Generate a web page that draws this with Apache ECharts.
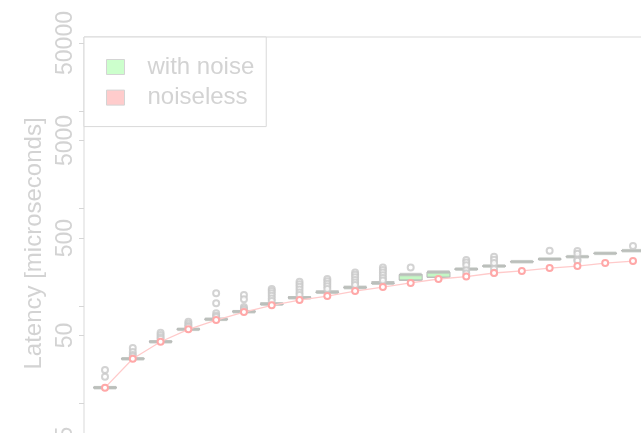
<!DOCTYPE html>
<html>
<head>
<meta charset="utf-8">
<script src="https://cdn.jsdelivr.net/npm/echarts@6/dist/echarts.min.js"></script>
<style>html,body{margin:0;padding:0;background:#fff;}#c{width:641px;height:433px;}</style>
</head>
<body>
<div id="c"></div>
<script>
// ---- data ----
const groups = [1,2,3,4,5,6,7,8,9,10,11,12,13,14,15,16,17,18,19,20];
// with noise: [min, Q1, median, Q3, max]
const withNoiseStats = [
  [14.4,14.5,14.6,14.7,14.9],
  [28.6,28.8,28.9,29.0,29.3],
  [42.8,43.0,43.2,43.4,44.0],
  [57.4,57.7,57.9,58.1,59.0],
  [72.5,73.0,73.3,73.6,75.0],
  [87.0,87.5,87.8,88.2,90.0],
  [104,104.6,105,105.5,108],
  [121,121.5,122,122.7,125],
  [138,138.5,139,139.8,143],
  [154,154.5,155,156,160],
  [171,171.5,172,173,178],
  [185,185,211,211,211],
  [198,198,224,224,224],
  [238,239,240,241,242],
  [256,257,258,259,260],
  [284,285,286,287,288],
  [302,303,304,305,306],
  [320,321,322,323,324],
  [346,347,348,349,350],
  [369,370,371,372,373]
];
const withNoiseMedians = withNoiseStats.map(s => s[2]);
// outliers: [group, value]
const withNoiseOutliers = [
  [1,22.1],[1,18.9],
  [2,37.2],[2,33.9],[2,31.6],[2,30.4],
  [3,53.4],[3,50.5],[3,48],[3,46],
  [4,69.3],[4,66],[4,63],[4,61],
  [5,135.5],[5,107],[5,84.5],[5,80],[5,77],
  [6,130],[6,118],[6,98],[6,94],[6,91],
  [7,150],[7,143],[7,136],[7,128],[7,120],[7,113],
  [8,178],[8,168],[8,158],[8,148],[8,138],[8,130],
  [9,190],[9,180],[9,170],[9,160],[9,150],
  [10,222],[10,210],[10,198],[10,186],[10,175],[10,165],
  [11,249],[11,235],[11,222],[11,208],[11,195],[11,183],
  [12,249],
  [14,297],[14,280],[14,263],[14,233],[14,216],
  [15,322],[15,300],[15,278],[15,240],[15,220],
  [17,371],
  [18,368],[18,345],[18,300],[18,292],
  [20,414]
];
const noiseless = [14.6,28.9,43.2,57.9,72.1,87.1,102,115.6,127,143,157,173,190,201,219,230,246,258,277,290];
const yTickValues = [5,10,50,100,500,1000,5000,10000,50000];
const yLabelValues = [5,50,500,5000,50000];
const yAxisTitle = 'Latency [microseconds]';
const legendNames = ['with noise','noiseless'];

// ---- chart ----
const chart = echarts.init(document.getElementById('c'), null, {renderer:'canvas'});
const txt = '#d3d3d3';
const font = 'Liberation Sans, Arial, sans-serif';
chart.setOption({
  animation: false,
  backgroundColor: '#fff',
  grid: {left: 84, top: 37, width: 617, height: 413, outerBoundsMode: 'none', containLabel: false,
    show: true, borderColor: '#d9d9d9', borderWidth: 1, backgroundColor: 'transparent'},
  xAxis: {
    type: 'value', min: 0.2443, max: 22.447,
    axisLine: {show:false}, axisTick: {show:false}, axisLabel: {show:false}, splitLine: {show:false}
  },
  yAxis: {
    type: 'log', logBase: 10, min: 3.35, max: 57620,
    name: yAxisTitle, nameLocation: 'middle', nameRotate: 90, nameGap: 30,
    nameTextStyle: {color: txt, fontSize: 24, fontFamily: font},
    axisLine: {show:false},
    axisTick: {show:true, length: 5, lineStyle:{color:'#d6d6d6'}, customValues: yTickValues},
    axisLabel: {show:true, rotate: 90, margin: 7, color: txt, fontSize: 23, fontFamily: font,
      customValues: yLabelValues, formatter: v => String(Math.round(v))},
    splitLine: {show:false}
  },
  legend: {
    orient: 'vertical', left: 84, top: 37,
    padding: [18, 12, 17, 22], itemGap: 6.6, itemWidth: 18, itemHeight: 15,
    borderColor: '#d9d9d9', borderWidth: 1, backgroundColor: '#fff', borderRadius: 0,
    textStyle: {color: txt, fontSize: 24, fontFamily: font, lineHeight: 23, padding: [0,0,0,18]},
    data: [
      {name: legendNames[0], icon: 'rect', itemStyle: {color:'#ccffcc', borderColor:'#d4d4d4', borderWidth:1}},
      {name: legendNames[1], icon: 'rect', itemStyle: {color:'#ffcccc', borderColor:'#d4d4d4', borderWidth:1}}
    ]
  },
  series: [
    {
      name: legendNames[0], type: 'boxplot',
      boxWidth: [23, 23],
      itemStyle: {color: '#c4f7c4', borderColor: '#b8b8b8', borderWidth: 1},
      data: withNoiseStats.map((s, i) => [groups[i]].concat(s)),
      z: 2
    },
    {
      name: legendNames[0], type: 'scatter', symbol: 'rect', symbolSize: [22, 3.5],
      itemStyle: {color: '#bcc1bc'},
      data: withNoiseMedians.map((m, i) => [groups[i], m]),
      z: 3
    },
    {
      name: legendNames[0], type: 'scatter', symbol: 'emptyCircle', symbolSize: 6,
      itemStyle: {color: '#c8c8c8', borderWidth: 1},
      data: withNoiseOutliers,
      z: 3
    },
    {
      name: legendNames[1], type: 'line',
      symbol: 'emptyCircle', symbolSize: 6,
      lineStyle: {color: '#ffcaca', width: 1.3},
      itemStyle: {color: '#ffa8a8', borderWidth: 1.2},
      data: noiseless.map((v, i) => [groups[i], v]),
      z: 4
    }
  ]
});
</script>
</body>
</html>
